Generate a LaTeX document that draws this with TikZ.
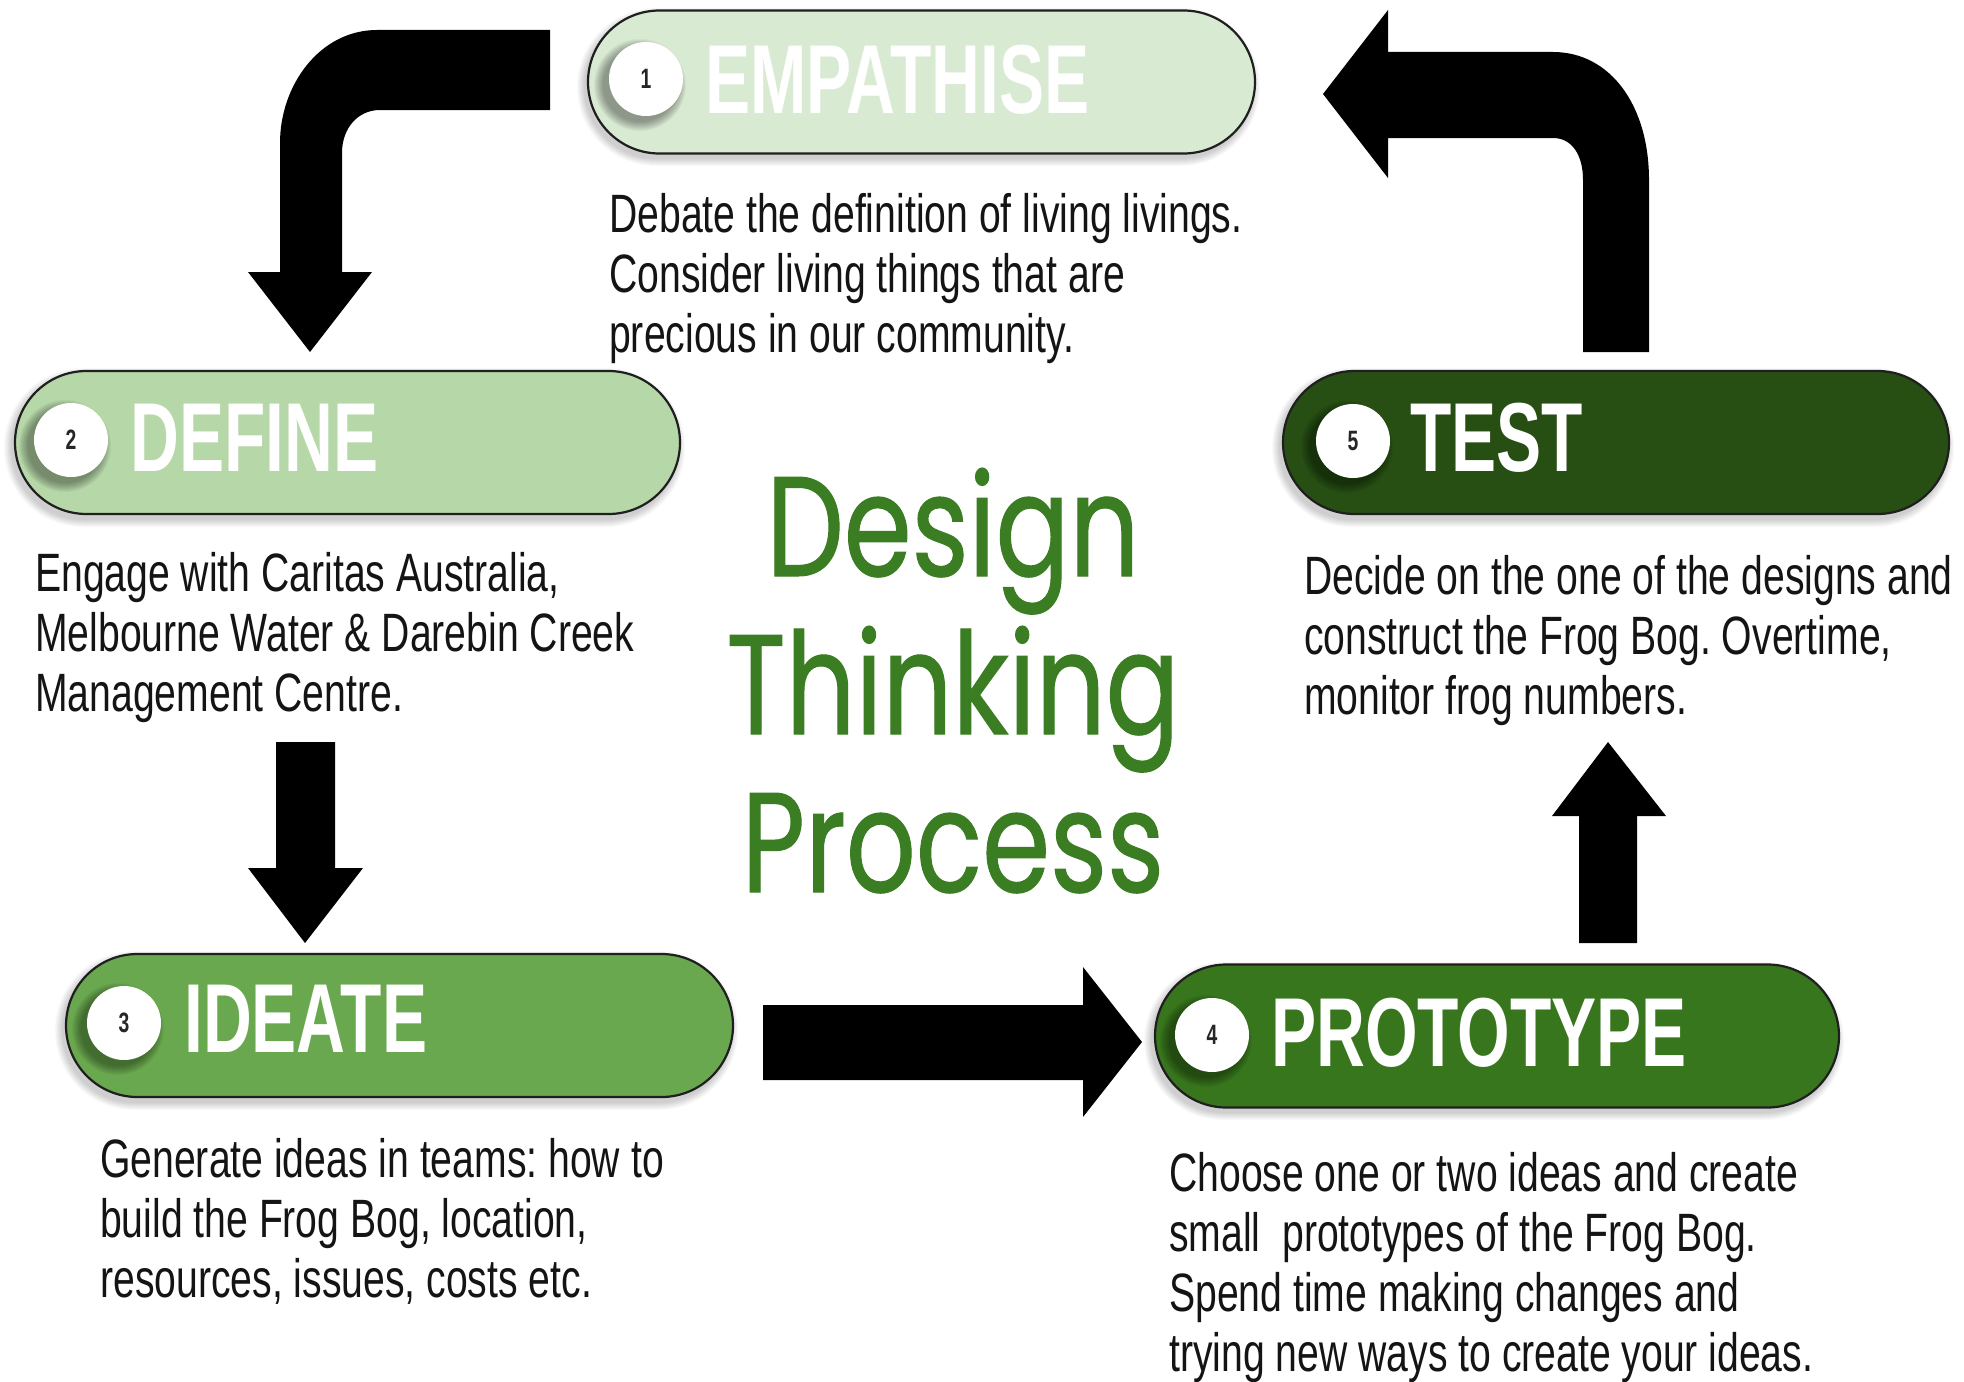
\documentclass[tikz,border=0pt]{standalone}
\usepackage{fontspec}
\frenchspacing
\newfontfamily\bodyfont{Liberation Sans}[FakeStretch=0.725]
\newfontfamily\headfont{Liberation Sans}[FakeStretch=0.69]
\newfontfamily\titlefont{Poppins}[FakeStretch=0.77,FakeBold=0.7]
\definecolor{cEmp}{HTML}{D9EAD3}
\definecolor{cDef}{HTML}{B6D7A8}
\definecolor{cIde}{HTML}{6AA84F}
\definecolor{cPro}{HTML}{38761D}
\definecolor{cTes}{HTML}{274E13}
\definecolor{cTitle}{HTML}{3A7D22}
\newcommand{\softcircle}[2]{\foreach \k in {0,...,9}{\fill[black,opacity=0.04] (#1-6,#2+6) circle ({46-\k});}}
\newcommand{\softpill}[4]{\foreach \k in {0,...,7}{\fill[black,opacity=0.022,rounded corners={79-\k}] ({#1-3-8+\k},{#2+5-8+\k}) rectangle ({#3-3+8-\k},{#4+5+8-\k});}}
\begin{document}
\begin{tikzpicture}[x=1pt,y=-1pt,
  pill/.style={draw=black!88, line width=2.2pt, rounded corners=71.5pt, minimum height=143pt, inner sep=0pt, shape=rectangle},
  numdot/.style={circle, fill=white, minimum size=74pt, inner sep=0pt, text=black!85, font=\headfont\bfseries\fontsize{28}{28}\selectfont},
  head/.style={anchor=base west, inner sep=0pt, text=white, font=\headfont\bfseries\fontsize{98}{98}\selectfont},
  body/.style={anchor=base west, inner sep=0pt, text=black!92, font=\bodyfont\fontsize{54}{60}\selectfont},
  blockarrow/.style={fill=black}]
\useasboundingbox (0,0) rectangle (1964,1381);
\fill[white] (0,0) rectangle (1964,1381);

% stage pills
\softpill{588}{11}{1255}{153}
\node[pill, fill=cEmp, minimum width=667pt] (p1) at (921.5,82) {};
\softpill{15}{371}{680}{514}
\node[pill, fill=cDef, minimum width=665pt] (p2) at (347.5,442.5) {};
\softpill{66}{954}{733}{1097}
\node[pill, fill=cIde, minimum width=667pt] (p3) at (399.5,1025.5) {};
\softpill{1155}{965}{1839}{1107}
\node[pill, fill=cPro, minimum width=684pt] (p4) at (1497,1036) {};
\softpill{1283}{371}{1949}{514}
\node[pill, fill=cTes, minimum width=666pt] (p5) at (1616,442.5) {};

% number circles
\softcircle{646}{79}
\node[numdot] (n1) at (646,79) {1};
\softcircle{71}{440}
\node[numdot] (n2) at (71,440) {2};
\softcircle{124}{1023}
\node[numdot] (n3) at (124,1023) {3};
\softcircle{1212}{1035}
\node[numdot] (n4) at (1212,1035) {4};
\softcircle{1353}{441}
\node[numdot] (n5) at (1353,441) {5};

% headings
\node[head] (h1) at (705,113) {EMPATHISE};
\node[head] (h2) at (130,471) {DEFINE};
\node[head] (h3) at (184,1052) {IDEATE};
\node[head] (h4) at (1271,1066) {PROTOTYPE};
\node[head] (h5) at (1410,471) {TEST};

% descriptions
\node[body] (d1) at (609,232) {\begin{tabular}[t]{@{}l@{}}Debate the definition of living livings.\\Consider living things that are\\precious in our community.\end{tabular}};
\node[body] (d2) at (35,591) {\begin{tabular}[t]{@{}l@{}}Engage with Caritas Australia,\\Melbourne Water \& Darebin Creek\\Management Centre.\end{tabular}};
\node[body] (d3) at (100,1177) {\begin{tabular}[t]{@{}l@{}}Generate ideas in teams: how to\\build the Frog Bog, location,\\resources, issues, costs etc.\end{tabular}};
\node[body] (d4) at (1169,1191) {\begin{tabular}[t]{@{}l@{}}Choose one or two ideas and create\\small\ \ prototypes of the Frog Bog.\\Spend time making changes and\\trying new ways to create your ideas.\end{tabular}};
\node[body] (d5) at (1304,594) {\begin{tabular}[t]{@{}l@{}}Decide on the one of the designs and\\construct the Frog Bog. Overtime,\\monitor frog numbers.\end{tabular}};

% title
\node[anchor=base, inner sep=0pt, text=cTitle, font=\titlefont\fontsize{142}{158}\selectfont] (title) at (953,576) {\begin{tabular}[t]{@{}c@{}}Design\\Thinking\\Process\end{tabular}};

% block arrows
\fill[blockarrow] (550,30) -- (377,30) .. controls (320,30) and (280,85) .. (280,143) -- (280,272) -- (248,272) -- (310,352) -- (372,272) -- (342,272) -- (342,153) .. controls (342,128) and (358,110) .. (380,110) -- (550,110) -- cycle;
\fill[blockarrow] (276,742) -- (335,742) -- (335,868) -- (363,868) -- (305,943) -- (248,868) -- (276,868) -- cycle;
\fill[blockarrow] (763,1005) -- (1083,1005) -- (1083,967) -- (1142,1042) -- (1083,1117) -- (1083,1080) -- (763,1080) -- cycle;
\fill[blockarrow] (1579,943) -- (1579,816) -- (1552,816) -- (1608,742) -- (1666,816) -- (1637,816) -- (1637,943) -- cycle;
\fill[blockarrow] (1649,352) -- (1649,180) .. controls (1649,105) and (1610,52) .. (1553,52) -- (1388,52) -- (1388,10) -- (1323,94) -- (1388,178) -- (1388,138) -- (1553,138) .. controls (1572,138) and (1583,155) .. (1583,180) -- (1583,352) -- cycle;
\end{tikzpicture}
\end{document}
